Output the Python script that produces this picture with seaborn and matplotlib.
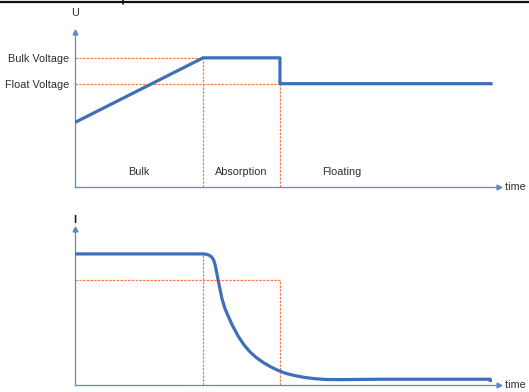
import numpy as np
import pandas as pd
import seaborn as sns
import matplotlib.pyplot as plt
from matplotlib.lines import Line2D

# Charging profile (arbitrary units: time, fraction of bulk voltage / bulk current)
u_time = [0.0, 1.0, 1.6, 1.6, 3.26]
u_value = [0.50, 1.0, 1.0, 0.80, 0.80]

i_time = [0.0, 1.0, 1.023, 1.047, 1.066, 1.082, 1.094, 1.105, 1.117, 1.133,
          1.148, 1.172, 1.198, 1.227, 1.276, 1.320, 1.367, 1.414, 1.469, 1.523,
          1.586, 1.648, 1.719, 1.797, 1.875, 1.961, 2.070, 2.383, 3.242, 3.242]
i_value = [1.0, 1.0, 0.998, 0.990, 0.977, 0.954, 0.916, 0.863, 0.802, 0.725,
           0.656, 0.580, 0.521, 0.458, 0.369, 0.305, 0.252, 0.210, 0.172, 0.141,
           0.111, 0.088, 0.071, 0.057, 0.048, 0.042, 0.041, 0.044, 0.044, 0.023]

bulk_end = 1.0
absorption_end = 1.6
bulk_voltage = 1.0
float_voltage = 0.80
current_threshold = 0.80

ytick_labels = ["Float Voltage", "Bulk Voltage"]
phase_names = ["Bulk", "Absorption", "Floating"]
phase_x = [0.5, 1.3, 2.08]

sns.set_style("white")
plt.rcParams['font.family'] = ['Liberation Sans', 'DejaVu Sans']

blue = "#3f6fb8"
axis_blue = "#5f88cc"
red = "#f27a4c"
text_col = "#2e2e2e"

fig = plt.figure(figsize=(5.29, 3.92), dpi=100)
ax_u = fig.add_axes([75 / 529, 1 - 187 / 392, 424 / 529, 155 / 392])
ax_i = fig.add_axes([75 / 529, 1 - 385 / 392, 424 / 529, 156 / 392])

for ax in (ax_u, ax_i):
    sns.despine(ax=ax)
    for side in ("left", "bottom"):
        ax.spines[side].set_color(axis_blue)
        ax.spines[side].set_linewidth(0.9)
    ax.set_xlim(0, 3.31)
    ax.set_xticks([])
    ax.tick_params(length=0)
    ax.plot(1, 0, ">", color=axis_blue, ms=3.5, transform=ax.get_yaxis_transform(), clip_on=False)
    ax.plot(0, 1, "^", color=axis_blue, ms=3.5, transform=ax.get_xaxis_transform(), clip_on=False)
    ax.text(1.0, 0, "  time", transform=ax.get_yaxis_transform(), ha="left", va="center",
            fontsize=7.8, color=text_col, clip_on=False)
    ax.set_xlabel("")
    ax.set_ylabel("")

dash = dict(color=red, lw=0.9, ls=(0, (2, 1)), zorder=1)
curve = dict(color=blue, lw=2.3, zorder=3, solid_joinstyle="round", solid_capstyle="butt")

# Voltage panel
ax_u.set_ylim(0, 1.20)
ax_u.hlines(bulk_voltage, 0, bulk_end, **dash)
ax_u.hlines(float_voltage, 0, absorption_end, **dash)
ax_u.vlines(bulk_end, 0, bulk_voltage, **dash)
ax_u.vlines(absorption_end, 0, float_voltage, **dash)
sns.lineplot(x=u_time, y=u_value, estimator=None, sort=False, ax=ax_u, **curve)
ax_u.set_yticks([float_voltage, bulk_voltage])
ax_u.set_yticklabels(ytick_labels, fontsize=7.8, color=text_col)
ax_u.tick_params(axis="y", pad=4)
for name, x in zip(phase_names, phase_x):
    ax_u.text(x, 0.119, name, ha="center", va="center", fontsize=7.8, color=text_col)
ax_u.annotate("U", xy=(0, 1), xycoords=ax_u.get_xaxis_transform(), xytext=(0, 10),
              textcoords="offset points", ha="center", va="bottom", fontsize=7.8, color=text_col)

# Current panel
ax_i.set_ylim(0, 1.19)
ax_i.set_yticks([])
ax_i.hlines(current_threshold, 0, absorption_end, **dash)
ax_i.vlines(bulk_end, 0, 1.0, **dash)
ax_i.vlines(absorption_end, 0, current_threshold, **dash)
sns.lineplot(x=i_time, y=i_value, estimator=None, sort=False, ax=ax_i, **curve)
ax_i.annotate("I", xy=(0, 1), xycoords=ax_i.get_xaxis_transform(), xytext=(0, 3),
              textcoords="offset points", ha="center", va="bottom", fontsize=7.8,
              fontweight="bold", color="#111111")

# top border from the source page
fig.add_artist(Line2D([0, 1], [1 - 2 / 392, 1 - 2 / 392], color="#111111", lw=1.6))
fig.add_artist(Line2D([123 / 529, 123 / 529], [1, 1 - 4 / 392], color="#111111", lw=1.2))

fig.savefig("out.png", dpi=100)
